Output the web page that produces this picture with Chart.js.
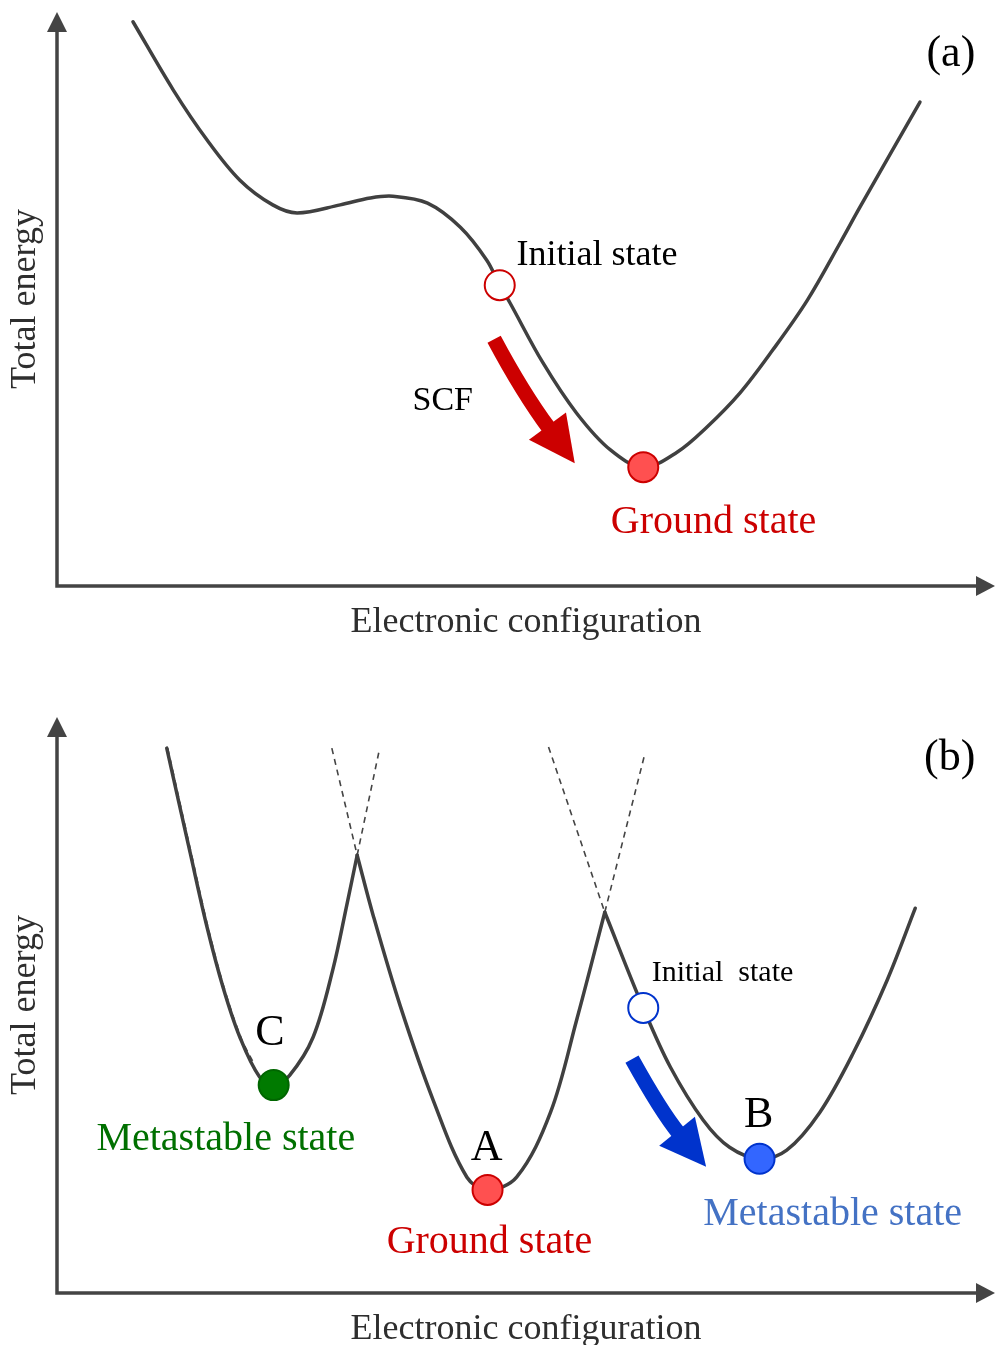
<!DOCTYPE html>
<html>
<head>
<meta charset="utf-8">
<script src="https://cdn.jsdelivr.net/npm/chart.js@4.4.1/dist/chart.umd.min.js"></script>
<style>
  html, body { margin: 0; padding: 0; background: #fff; overflow: hidden; }
  #page { position: relative; width: 995px; height: 1345px; overflow: hidden; }
  .panel { position: absolute; left: 0; width: 995px; }
  canvas { display: block; }
</style>
</head>
<body>
<div id="page">
  <div class="panel" style="top:0; height:660px"><canvas id="panelA" width="995" height="660"></canvas></div>
  <div class="panel" style="top:660px; height:685px"><canvas id="panelB" width="995" height="685"></canvas></div>
</div>
<script>
// ---- (a) single landscape, SCF relaxes to the ground state ----
const aCurveX = [8.1, 12.4, 16.0, 19.5, 23.0, 25.6, 30.2, 33.4, 35.8, 39.5, 43.0, 45.8, 47.2, 48.3, 51.8, 55.4, 59.0, 62.5, 66.1, 69.3, 72.8, 76.3, 80.0, 83.5, 85.6, 92.0];
const aCurveY = [98.3, 86.4, 77.7, 70.7, 66.4, 65.0, 66.4, 67.6, 67.9, 66.7, 62.5, 56.8, 52.4, 49.3, 38.9, 30.1, 23.7, 20.7, 23.3, 27.7, 33.6, 41.1, 49.8, 59.8, 66.0, 84.3];
const aInitial = [47.2, 52.4];
const aGround = [62.5, 20.7];

// ---- (b) three wells meeting at cusps ----
const bWellCX = [11.7, 14.2, 16.0, 17.7, 19.5, 21.6, 23.1, 24.8, 27.3, 29.4, 30.9, 32.0];
const bWellCY = [94.6, 76.4, 63.5, 53.1, 44.4, 37.5, 36.1, 37.8, 44.4, 56.1, 67.4, 76.0];
const bWellAX = [32.0, 33.7, 36.6, 40.1, 43.7, 45.9, 49.0, 52.6, 55.4, 58.4];
const bWellAY = [76.0, 65.6, 49.8, 33.5, 20.1, 17.9, 20.1, 31.3, 47.4, 66.1];
const bWellBX = [58.4, 62.5, 65.4, 68.9, 71.7, 74.9, 77.8, 81.3, 84.9, 88.5, 91.5];
const bWellBY = [66.1, 49.5, 39.2, 30.0, 25.3, 23.3, 24.8, 31.3, 41.7, 54.3, 66.8];
// continuations of the wells past the crossing points
const bGuideX = [[29.3, 32.0], [32.0, 34.3], [52.4, 58.4], [58.4, 62.7], [11.8, 14.3, 16.1, 17.8, 19.6, 21.1]];
const bGuideY = [[94.6, 76.0], [76.0, 93.8], [94.8, 66.1], [66.1, 93.8], [94.6, 76.4, 63.5, 53.1, 44.4, 39.5]];
const bStateC = [23.1, 36.1];
const bStateA = [45.9, 17.9];
const bStateB = [74.9, 23.3];
const bInitial = [62.5, 49.5];

const SERIF = '"Liberation Serif", "Times New Roman", serif';
const LINE = "#404040";

const pts = (xs, ys) => xs.map((x, i) => ({ x, y: ys[i] }));

function curve(xs, ys) {
  return {
    data: pts(xs, ys),
    showLine: true,
    borderColor: LINE,
    borderWidth: 3.5,
    borderCapStyle: "round",
    pointRadius: 0,
    tension: 0.35,
    clip: false,
    order: 2,
  };
}

function guide(xs, ys) {
  return {
    data: pts(xs, ys),
    showLine: true,
    borderColor: "#444",
    borderWidth: 1.6,
    borderDash: [6, 5],
    pointRadius: 0,
    tension: 0.35,
    clip: false,
    order: 3,
  };
}

function marker(p, fill, stroke) {
  return {
    data: [{ x: p[0], y: p[1] }],
    showLine: false,
    pointRadius: 15,
    pointBackgroundColor: fill,
    pointBorderColor: stroke,
    pointBorderWidth: 2,
    clip: false,
    order: 0,
  };
}

// axes with arrow heads, axis titles, arrows and labels
const schematic = {
  id: "schematic",
  beforeDatasetsDraw(chart) {
    const { ctx, chartArea: { left, right, top, bottom } } = chart;
    ctx.save();
    ctx.strokeStyle = "#444";
    ctx.fillStyle = "#444";
    ctx.lineWidth = 3.5;
    ctx.lineJoin = "miter";
    ctx.beginPath();
    ctx.moveTo(left, top + 18);
    ctx.lineTo(left, bottom);
    ctx.lineTo(right - 17, bottom);
    ctx.stroke();
    ctx.beginPath();
    ctx.moveTo(left, top);
    ctx.lineTo(left - 10, top + 20);
    ctx.lineTo(left + 10, top + 20);
    ctx.closePath();
    ctx.fill();
    ctx.beginPath();
    ctx.moveTo(right, bottom);
    ctx.lineTo(right - 19, bottom - 10);
    ctx.lineTo(right - 19, bottom + 10);
    ctx.closePath();
    ctx.fill();

    ctx.fillStyle = "#2e2e2e";
    ctx.font = `36px ${SERIF}`;
    ctx.textAlign = "center";
    ctx.textBaseline = "alphabetic";
    ctx.fillText("Electronic configuration", (left + right) / 2, bottom + 46);
    ctx.translate(left - 22, (top + bottom) / 2);
    ctx.rotate(-Math.PI / 2);
    ctx.fillText("Total energy", 0, 0);
    ctx.restore();
  },
  afterDatasetsDraw(chart, args, opts) {
    const { ctx, scales: { x, y } } = chart;
    const px = (p) => [x.getPixelForValue(p[0]), y.getPixelForValue(p[1])];
    ctx.save();
    (opts.arrows || []).forEach((a) => {
      const [tx, ty] = px(a.tail), [cx, cy] = px(a.ctrl), [hx, hy] = px(a.tip);
      const len = Math.hypot(hx - cx, hy - cy);
      const ux = (hx - cx) / len, uy = (hy - cy) / len;
      const bx = hx - ux * 46, by = hy - uy * 46;
      ctx.strokeStyle = a.color;
      ctx.lineWidth = 15;
      ctx.lineCap = "butt";
      ctx.beginPath();
      ctx.moveTo(tx, ty);
      ctx.quadraticCurveTo(cx, cy, bx + ux * 3, by + uy * 3);
      ctx.stroke();
      ctx.fillStyle = a.color;
      ctx.beginPath();
      ctx.moveTo(hx, hy);
      ctx.lineTo(bx - uy * 23, by + ux * 23);
      ctx.lineTo(bx + uy * 23, by - ux * 23);
      ctx.closePath();
      ctx.fill();
    });
    ctx.textBaseline = "alphabetic";
    (opts.labels || []).forEach((l) => {
      const [lx, ly] = px([l.x, l.y]);
      ctx.font = `${l.size}px ${SERIF}`;
      ctx.fillStyle = l.color;
      ctx.textAlign = l.align;
      ctx.fillText(l.text, lx, ly);
    });
    ctx.restore();
  },
};

function baseOptions(padBottom, top, extras) {
  return {
    responsive: false,
    animation: false,
    events: [],
    layout: { autoPadding: false, padding: { left: 57, right: 0, top, bottom: padBottom } },
    scales: {
      x: { type: "linear", min: 0, max: 100, display: false },
      y: { type: "linear", min: 0, max: 100, display: false },
    },
    plugins: {
      legend: { display: false },
      tooltip: { enabled: false },
      schematic: extras,
    },
  };
}

new Chart(document.getElementById("panelA"), {
  type: "scatter",
  data: {
    datasets: [
      marker(aInitial, "#ffffff", "#cc0000"),
      marker(aGround, "#ff5050", "#cc0000"),
      curve(aCurveX, aCurveY),
    ],
  },
  options: baseOptions(74, 12, {
    arrows: [{ tail: [46.6, 43.0], ctrl: [49.6, 33.8], tip: [55.2, 21.4], color: "#cc0000" }],
    labels: [
      { text: "Initial state", x: 49.0, y: 55.9, size: 36, color: "#000", align: "left" },
      { text: "SCF", x: 37.9, y: 30.7, size: 34, color: "#000", align: "left" },
      { text: "Ground state", x: 70.0, y: 9.2, size: 40, color: "#cc0000", align: "center" },
      { text: "(a)", x: 97.9, y: 90.6, size: 44, color: "#000", align: "right" },
    ],
  }),
  plugins: [schematic],
});

new Chart(document.getElementById("panelB"), {
  type: "scatter",
  data: {
    datasets: [
      marker(bStateC, "#007a00", "#006600"),
      marker(bStateA, "#ff5050", "#cc0000"),
      marker(bStateB, "#3366ff", "#0033cc"),
      marker(bInitial, "#ffffff", "#0033cc"),
      curve(bWellCX, bWellCY),
      curve(bWellAX, bWellAY),
      curve(bWellBX, bWellBY),
      ...bGuideX.map((xs, i) => guide(xs, bGuideY[i])),
    ],
  },
  options: baseOptions(52, 57, {
    arrows: [{ tail: [61.3, 40.6], ctrl: [64.4, 31.5], tip: [69.2, 21.9], color: "#0033cc" }],
    labels: [
      { text: "C", x: 22.7, y: 43.1, size: 44, color: "#000", align: "center" },
      { text: "Metastable state", x: 4.2, y: 24.8, size: 40, color: "#007000", align: "left" },
      { text: "A", x: 45.8, y: 23.1, size: 44, color: "#000", align: "center" },
      { text: "Ground state", x: 46.1, y: 6.9, size: 40, color: "#cc0000", align: "center" },
      { text: "Initial  state", x: 63.4, y: 54.2, size: 30, color: "#000", align: "left" },
      { text: "B", x: 74.8, y: 28.8, size: 44, color: "#000", align: "center" },
      { text: "Metastable state", x: 68.9, y: 11.8, size: 40, color: "#4472c4", align: "left" },
      { text: "(b)", x: 97.9, y: 90.8, size: 44, color: "#000", align: "right" },
    ],
  }),
  plugins: [schematic],
});
</script>
</body>
</html>
